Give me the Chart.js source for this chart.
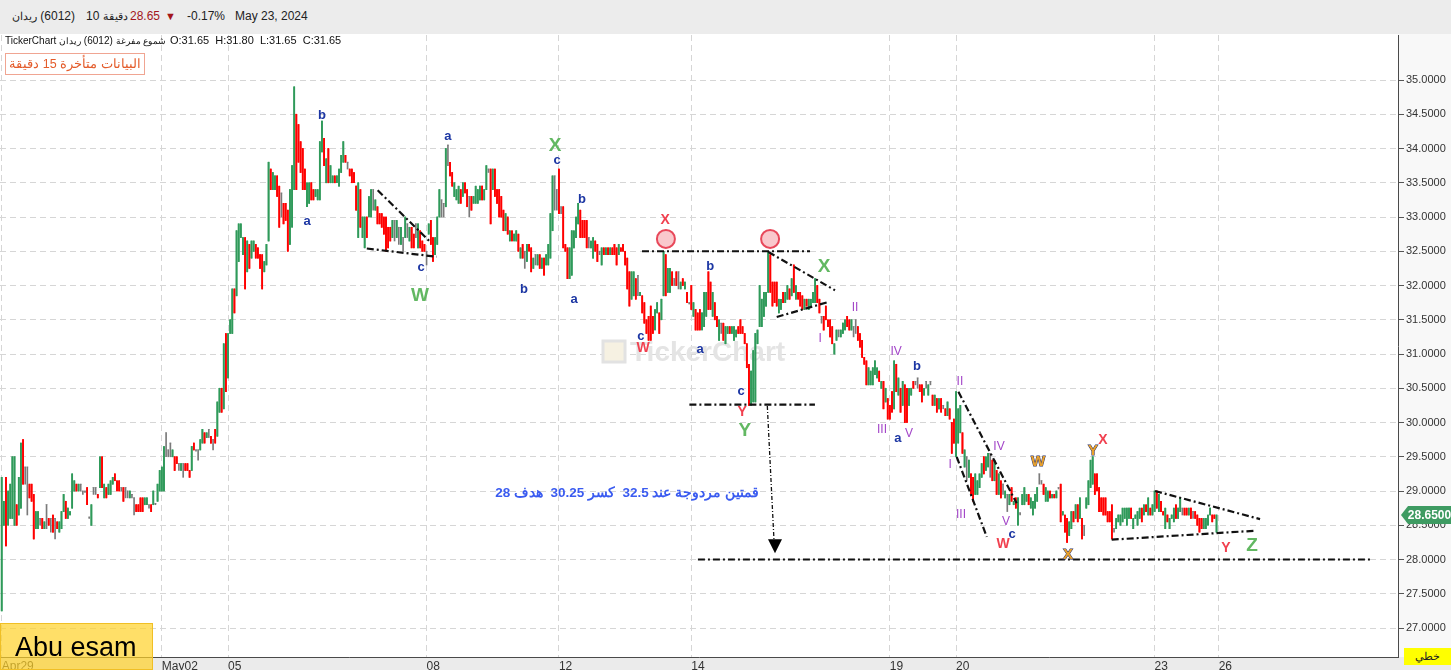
<!DOCTYPE html>
<html lang="en">
<head>
<meta charset="utf-8">
<title>ريدان (6012) - 10 دقيقة</title>
<script src="https://cdn.jsdelivr.net/npm/chart.js@4.4.1/dist/chart.umd.min.js"></script>
<style>
  html, body { margin: 0; padding: 0; }
  body { width: 1451px; height: 670px; position: relative; overflow: hidden; background: #fff;
         font-family: Arial, "Liberation Sans", sans-serif; color: #222; }
  .abs { position: absolute; white-space: pre; line-height: 1; }
  .ar { font-size: 0.9em; }
  #topbar { left: 0; top: 0; width: 1451px; height: 34px; background: #ececec; }
  #wrap { position: absolute; left: 0; top: 34px; width: 1451px; height: 636px; }
  .hd { top: 10px; font-size: 12px; color: #222; }
  .info { top: 36px; font-size: 10px; color: #111; }
  #delay { left: 5px; top: 53px; width: 138px; height: 20px; border: 1px solid #f0a592; background: #fff;
           color: #e45c2b; font-size: 12.5px; line-height: 20px; text-align: center; direction: rtl; overflow: hidden; }
  #author { left: 0; top: 623px; width: 151px; height: 45px; background: rgba(255, 210, 40, 0.7);
            border: 1px solid #f0bf25; font-size: 27px; line-height: 46px; color: #000; text-indent: 14px; }
  #mode { left: 1404px; top: 648px; width: 47px; height: 17px; background: #ffff00; font-size: 11px;
          line-height: 17px; text-align: center; color: #222; }
</style>
</head>
<body>
<div id="topbar" class="abs"></div>
<span class="abs hd" style="left:12px"><bdi class="ar">ريدان</bdi> (6012)</span>
<span class="abs hd" style="left:86px">10 <bdi class="ar">دقيقة</bdi></span>
<span class="abs hd" style="left:130px;color:#a3151b">28.65</span>
<span class="abs hd" style="left:165px;color:#a3151b;font-size:11px;top:11px">▼</span>
<span class="abs hd" style="left:187px">-0.17%</span>
<span class="abs hd" style="left:235px">May 23, 2024</span>

<div id="wrap"><canvas id="chart"></canvas></div>

<span class="abs info" style="left:5px">TickerChart <bdi class="ar">ريدان</bdi> (6012) <bdi class="ar">شموع مفرغة</bdi></span>
<span class="abs info" style="left:170px;font-size:11px;top:35px">O:31.65  H:31.80  L:31.65  C:31.65</span>
<div id="delay" class="abs">البيانات متأخرة 15 دقيقة</div>
<div id="author" class="abs">Abu esam</div>
<div id="mode" class="abs">خطي</div>

<script>
// 10-minute candles, Apr 29 (partial) to May 23, 2024; one entry per candle
const dayLabels = ['Apr29', 'May02', '05', '08', '12', '14', '19', '20', '23', '26'];
const dayStarts = [0, 75, 106, 199, 261, 323, 416, 447, 540, 570];
const priceTicks = [27, 27.5, 28, 28.5, 29, 29.5, 30, 30.5, 31, 31.5, 32, 32.5, 33, 33.5, 34, 34.5, 35];

const opens = [
  // Apr29 - May01
  27.25,28.5,29.2,28.5,28.6,28.6,28.5,28.8,28.65,28.75, 29.75,29.35,29.35,29.1,29.1,28.95,28.45,28.45,28.6,28.6,
  28.45,28.8,28.6,28.6,28.65,28.6,28.55,28.4,28.45,28.7, 28.85,28.6,28.65,28.75,29,29.1,29,29.1,29,29,
  29.05,28.62,28.5,29.05,29.05,28.95,29.05,29.5,28.9,29.05, 28.95,28.95,29.1,29.25,29.15,29.15,29.05,29.05,29.05,29,
  28.9,28.95,28.9,28.8,28.8,28.9,28.9,28.8,28.8,28.8, 28.8,28.8,28.82,28.85,29,
  // May02
  29,29,29.85,29.6,29.7,29.5,29.5,29.5,29.4,29.3, 29.4,29.4,29.4,29.3,29.3,29.7,29.6,29.6,29.6,29.7,
  29.85,29.78,29.9,29.8,29.75,29.9,29.8,30.15,30.5,30.2, 31.3,
  // May05
  30.65,31.3,31.3,31.95,31.85,32.35,32.7,32.45,32.7,32.2, 32.6,32.4,32.5,32.6,32.55,32.45,32.45,32.2,32.3,32.65,
  33.7,33.4,33.4,33.6,33.45,33.35,33.2,33.2,33.1,32.6, 32.85,
  // May06
  33.4,34.5,34.35,34.1,34,33.7,33.15,33.2,33.5,33.4, 33.3,33.25,33.25,33.95,34.15,33.5,34,33.5,33.5,33.6,
  33.5,33.45,33.65,33.8,33.9,33.8,33.7,33.7,33.65,33.45, 32.7,33.4,
  // May07
  32.7,32.55,33,33,33,33.4,33.1,33.15,33.05,33.05, 33,33,32.85,32.85,32.7,32.95,32.7,32.85,32.6,32.7,
  32.7,32.9,32.65,32.85,32.75,32.9,32.55,32.8,32.65,32.6,
  // May08
  32.5,32.75,32.95,32.7,32.45,32.6,33,33.25,33.2,33.15, 34.05,33.8,33.65,33.3,33.25,33.2,33.4,33.3,33.5,33.4,
  33.3,33.3,33.2,33.2,33.2,33.25,33.45,33.25,33.4,33.7, 33.7,
  // May09
  33.4,33.7,33.4,33.4,33.3,33.1,32.8,33,32.65,32.8, 32.65,32.65,32.75,32.4,32.6,32.5,32.35,32.6,32.55,32.25,
  32.45,32.3,32.45,32.25,32.4,32.3,32.3,32.4,32.8,33.6, 33.4,
  // May12
  33.7,33.15,33.15,32.6,32.55,32.1,32.15,32.55,32.7,32.9, 33.1,32.95,32.95,32.95,32.7,32.55,32.4,32.65,32.6,32.5,
  32.3,32.55,32.45,32.55,32.45,32.55,32.6,32.55,32.45,32.55, 32.6,
  // May13
  32.5,32.4,32.2,31.8,31.85,32.1,32.15,31.85,31.85,31.75, 31.5,31.55,31.7,31.55,31.35,31.6,31.6,31.5,31.85,32.45,
  31.9,31.9,32.2,32.1,32.2,32.2,31.95,32.1,31.95,31.9, 31.75,
  // May14
  32,31.55,31.65,31.6,31.65,31.35,31.4,31.55,32.2,32.05, 31.55,31.75,31.55,31.2,31.45,31.45,31.15,31.3,31.4,31.3,
  31.2,31.25,31.4,31.5,31.4,31.3,31.15,30.85,30.25,30.3, 30.3,
  // May15
  31.15,31.4,31.4,31.55,31.7,31.9,32.45,32.05,32.05,32.05, 31.6,31.65,31.9,31.75,31.8,31.95,31.85,32.3,31.8,31.9,
  31.9,31.85,31.65,31.8,31.65,31.7,31.75,31.75,32,31.8, 31.55,
  // May16
  31.55,31.7,31.5,31.5,31.4,31,31.2,31.35,31.25,31.3, 31.35,31.55,31.5,31.35,31.4,31.5,31.4,31.3,31.2,30.95,
  30.9,30.55,30.55,30.55,30.7,30.65,30.75,30.5,30.6,30.3, 30.35,
  // May19
  30.25,30.45,30.2,30.85,30.4,30.5,30.25,30.55,30.5,30.25, 30.4,30.6,30.6,30.65,30.55,30.55,30.4,30.6,30.4,30.6,
  30.4,30.25,30.35,30.2,30.35,30.25,30.2,30.1,30.2,30, 30.05,
  // May20
  29.5,29.7,29.85,29.85,29.35,29.5,29.2,29.25,29.2,28.95, 28.95,29.05,29.2,29.5,29.3,29.35,29.55,29.45,29.15,29.3,
  28.95,29.15,29.1,28.9,28.95,28.8,29.05,28.8,28.9,28.5, 28.68,
  // May21
  28.8,28.8,28.85,28.95,28.75,28.65,28.75,28.85,29.25,29.15, 29.1,28.85,28.85,29,28.9,28.95,28.9,29.05,29.1,28.65,
  28.65,28.6,28.35,28.45,28.7,28.6,28.8,28.6,28.6,28.5, 28.75,
  // May22
  28.8,29.05,29.1,29.25,29.25,29.05,28.9,28.9,28.9,28.7, 28.7,28.8,28.45,28.45,28.55,28.5,28.55,28.6,28.5,28.6,
  28.75,28.45,28.6,28.5,28.6,28.75,28.65,28.8,28.65,28.75, 28.65,
  // May23
  28.7,29,28.7,28.85,28.7,28.45,28.65,28.45,28.6,28.55, 28.8,28.6,28.7,28.75,28.75,28.75,28.65,28.75,28.7,28.7,
  28.65,28.6,28.6,28.45,28.45,28.5,28.65,28.65,28.65,28.4
];

const highs = [
  // Apr29 - May01
  29.2,28.85,29.2,29,29.1,29.5,29.5,28.8,29.2,29.7, 29.75,29.35,29.35,29.1,29.1,28.95,28.7,28.7,28.6,28.6,
  28.55,28.8,28.6,28.6,28.65,28.6,28.55,28.55,28.7,28.95, 28.85,28.75,28.7,29.25,29.15,29.1,29.1,29.1,29,29,
  29.05,28.62,28.8,29.05,29.05,28.95,29.5,29.5,29.1,29.05, 29.1,29.15,29.2,29.25,29.15,29.15,29.05,29.05,29.05,29,
  29,28.95,28.9,28.8,28.8,28.9,28.9,28.9,28.9,28.8, 28.8,29,28.82,29.1,29.3,
  // May02
  29.35,29.65,29.85,29.6,29.7,29.6,29.5,29.5,29.4,29.4, 29.4,29.4,29.4,29.3,29.65,29.7,29.6,29.6,29.75,29.9,
  29.85,29.85,29.9,29.8,29.75,29.9,30.3,30.5,30.5,31.15, 31.3,
  // May05
  31.3,31.5,31.95,31.95,32.8,32.9,32.9,32.7,32.7,32.65, 32.6,32.65,32.65,32.6,32.55,32.45,32.45,32.35,32.6,33.8,
  33.7,33.65,33.6,33.6,33.45,33.35,33.2,33.2,33.1,33.4, 33.75,
  // May06
  34.9,34.5,34.35,34.1,34,33.7,33.5,33.5,33.5,33.4, 33.4,33.4,34.1,34.4,34.15,33.85,34,33.75,33.6,33.6,
  33.6,33.7,33.9,34.1,33.9,33.8,33.7,33.7,33.65,33.45, 33.5,33.4,
  // May07
  33,33,33,33.3,33.4,33.4,33.25,33.15,33.05,33.05, 33,33,32.85,32.85,32.95,32.95,32.95,32.85,32.85,32.7,
  33,32.9,32.85,32.85,32.75,32.9,32.9,32.8,32.65,32.6,
  // May08
  32.5,32.9,32.95,32.7,32.7,33,33.4,33.25,33.2,34, 34.05,33.8,33.65,33.5,33.4,33.45,33.4,33.5,33.5,33.4,
  33.3,33.3,33.3,33.45,33.4,33.45,33.45,33.4,33.75,33.7, 33.7,
  // May09
  33.7,33.7,33.4,33.4,33.3,33.1,33.05,33,32.8,32.8, 32.75,32.8,32.75,32.55,32.6,32.5,32.6,32.6,32.55,32.4,
  32.45,32.45,32.45,32.4,32.4,32.45,32.6,33.05,33.6,33.6, 33.4,
  // May12
  33.7,33.15,33.15,32.6,32.55,32.55,32.8,32.8,33,33.2, 33.1,32.95,32.95,32.95,32.7,32.65,32.7,32.65,32.6,32.5,
  32.55,32.55,32.55,32.55,32.55,32.55,32.6,32.55,32.6,32.55, 32.6,
  // May13
  32.5,32.4,32.2,32.2,32.2,32.1,32.15,31.9,31.85,31.75, 31.5,31.55,31.7,31.55,31.65,31.75,31.6,31.8,32.5,32.45,
  32.25,32.25,32.2,32.1,32.2,32.2,32.05,32.1,32.05,31.9, 31.75,
  // May14
  32,31.75,31.65,31.6,31.65,31.6,31.9,31.9,32.2,32.05, 31.9,31.75,31.55,31.5,31.45,31.45,31.4,31.4,31.4,31.4,
  31.4,31.35,31.4,31.5,31.4,31.3,31.15,30.85,30.75,31.05, 31.3,
  // May15
  31.35,32,31.8,31.9,31.9,32.5,32.45,32.05,32.05,32.05, 31.8,31.8,31.9,31.9,32,31.95,32.1,32.3,32,31.9,
  31.9,31.85,31.8,31.8,31.8,31.8,31.9,32.1,32,31.8, 31.55,
  // May16
  31.55,31.7,31.5,31.5,31.4,31.15,31.35,31.35,31.35,31.45, 31.5,31.55,31.5,31.5,31.4,31.5,31.4,31.3,31.2,30.95,
  30.9,30.8,30.75,30.8,30.9,30.8,30.75,30.6,30.6,30.5, 30.35,
  // May19
  30.25,30.45,30.9,30.85,30.65,30.5,30.6,30.55,30.5,30.5, 30.5,30.6,30.6,30.65,30.55,30.55,30.5,30.6,30.55,30.6,
  30.4,30.4,30.35,30.35,30.35,30.25,30.2,30.3,30.2,30, 30.05,
  // May20
  30.45,30.2,30.25,29.85,29.6,29.5,29.45,29.25,29.2,29.25, 29.15,29.25,29.4,29.5,29.5,29.55,29.55,29.45,29.45,29.3,
  29.25,29.15,29.1,29,28.95,28.95,29.05,28.85,28.9,28.9, 28.68,
  // May21
  28.95,29.05,28.95,28.95,28.9,28.85,28.95,29.05,29.25,29.15, 29.1,29.05,29,29,28.95,28.95,29,29.05,29.1,28.7,
  28.65,28.6,28.55,28.7,28.7,28.8,28.8,28.9,28.6,28.5, 28.9,
  // May22
  29.15,29.45,29.5,29.25,29.25,29.05,28.9,28.9,28.9,28.7, 28.7,28.8,28.45,28.6,28.65,28.65,28.75,28.75,28.75,28.75,
  28.75,28.6,28.65,28.7,28.75,28.75,28.8,28.8,28.9,28.75, 28.8,
  // May23
  29,29,28.95,28.85,28.7,28.75,28.65,28.6,28.65,28.75, 28.8,28.75,28.9,28.75,28.75,28.75,28.75,28.75,28.7,28.7,
  28.65,28.6,28.6,28.6,28.6,28.65,28.75,28.65,28.65,28.65
];

const lows = [
  // Apr29 - May01
  27.25,28.5,28.2,28.5,28.6,28.6,28.5,28.5,28.65,28.75, 29.1,29.1,28.65,28.9,28.85,28.3,28.45,28.45,28.5,28.45,
  28.45,28.45,28.5,28.4,28.4,28.3,28.45,28.4,28.45,28.7, 28.6,28.6,28.65,28.75,29,29,29,29,28.95,28.98,
  28.8,28.6,28.5,28.95,28.95,28.9,29.05,29.05,28.9,28.9, 28.95,28.95,29.1,29.15,29,29,29,28.85,28.9,28.9,
  28.9,28.9,28.65,28.7,28.7,28.7,28.7,28.8,28.8,28.75, 28.7,28.8,28.8,28.85,29,
  // May02
  29,29,29.5,29.5,29.5,29.5,29.3,29.4,29.3,29.3, 29.2,29.3,29.3,29.2,29.3,29.6,29.58,29.45,29.6,29.7,
  29.7,29.78,29.78,29.7,29.6,29.7,29.8,30.15,30.15,30.2, 30.45,
  // May05
  30.65,31.3,31.3,31.6,31.85,32.35,32.7,32.45,31.95,32.2, 32.25,32.4,32.5,32.4,32.4,32.25,31.95,32.2,32.3,32.65,
  33.4,33.4,33.4,33.3,32.85,33,32.9,32.95,32.5,32.6, 32.85,
  // May06
  33.4,33.4,33.8,33.65,33.4,33.4,33.15,33.2,33.25,33.25, 33.3,33.25,33.25,33.95,33.75,33.5,33.5,33.5,33.5,33.5,
  33.5,33.45,33.65,33.8,33.8,33.7,33.6,33.5,33.5,33.1, 32.7,32.85,
  // May07
  32.7,32.55,32.7,33,33,33.1,33.1,32.9,32.9,32.85, 32.75,32.5,32.55,32.65,32.7,32.65,32.7,32.6,32.6,32.5,
  32.7,32.7,32.65,32.55,32.55,32.7,32.55,32.55,32.5,32.5,
  // May08
  32.3,32.75,32.6,32.35,32.45,32.6,33,33,33,33.15, 33.75,33.6,33.45,33.3,33.25,33.2,33.2,33.3,33.35,33.15,
  33,33.1,33.2,33.2,33.2,33.25,33.25,33.25,33.4,33.65, 32.9,
  // May09
  33.4,33.3,33.2,33,33,32.8,32.8,32.75,32.65,32.65, 32.65,32.65,32.5,32.4,32.4,32.25,32.35,32.5,32.2,32.25,
  32.3,32.3,32.25,32.25,32.15,32.3,32.3,32.4,32.8,33.1, 33.1,
  // May12
  33.05,33.05,32.55,32.5,32.1,32.1,32.15,32.55,32.7,32.9, 32.7,32.7,32.7,32.55,32.55,32.55,32.4,32.5,32.35,32.45,
  32.3,32.45,32.45,32.45,32.45,32.45,32.45,32.3,32.45,32.5, 32.5,
  // May13
  32.3,31.95,31.7,31.8,31.85,31.8,31.85,31.85,31.6,31.45, 31.3,31.2,31.2,31.3,31.35,31.6,31.3,31.5,31.85,31.85,
  31.9,31.9,32,32,32,31.95,31.95,32,31.95,31.75, 31.73,
  // May14
  31.65,31.55,31.35,31.35,31.35,31.35,31.4,31.55,31.65,31.65, 31.55,31.5,31.4,31.2,31.3,31.2,31.15,31.3,31.3,31.3,
  31.2,31.25,31.3,31.3,31.3,31.15,30.8,30.25,30.25,30.3, 30.3,
  // May15
  31.15,31.4,31.4,31.55,31.7,31.9,31.9,31.7,31.75,31.7, 31.6,31.65,31.75,31.75,31.8,31.8,31.85,31.9,31.8,31.8,
  31.7,31.65,31.65,31.7,31.65,31.7,31.75,31.75,31.75,31.6, 31.45,
  // May16
  31.35,31.5,31.4,31.25,31.15,31,31.2,31.25,31.25,31.3, 31.35,31.4,31.35,31.35,31.25,31.3,31.2,31.1,30.95,30.85,
  30.55,30.55,30.55,30.55,30.7,30.65,30.6,30.5,30.2,30.3, 30.05,
  // May19
  30.05,30.15,30.2,30.45,30.4,30.15,30.25,30,30,30.25, 30.4,30.5,30.55,30.5,30.45,30.3,30.4,30.5,30.4,30.55,
  30.25,30.25,30.15,30.2,30.15,30.2,30.1,30.1,30.05,29.55, 29.7,
  // May20
  29.5,29.7,29.85,29.55,29.35,29.15,29.2,28.95,28.85,28.95, 28.95,29.05,29.2,29.25,29.3,29.35,29.2,29.15,29.15,28.95,
  28.95,28.9,28.95,28.9,28.7,28.8,28.85,28.8,28.75,28.5, 28.65,
  // May21
  28.8,28.8,28.85,28.8,28.75,28.65,28.75,28.85,29.1,29.1, 28.95,28.85,28.85,28.9,28.9,28.9,28.9,29.03,28.55,28.65,
  28.4,28.25,28.35,28.45,28.55,28.6,28.55,28.6,28.3,28.35, 28.75,
  // May22
  28.8,29.05,29.1,28.95,29,28.7,28.7,28.65,28.65,28.55, 28.55,28.3,28.4,28.45,28.55,28.5,28.55,28.6,28.5,28.6,
  28.6,28.45,28.6,28.5,28.6,28.55,28.65,28.7,28.65,28.65, 28.65,
  // May23
  28.7,28.75,28.7,28.7,28.65,28.45,28.55,28.45,28.6,28.55, 28.6,28.6,28.7,28.65,28.65,28.65,28.65,28.6,28.6,28.6,
  28.5,28.4,28.45,28.45,28.45,28.5,28.65,28.55,28.6,28.4
];

const closes = [
  // Apr29 - May01
  29.2,28.85,28.2,29,29.1,29.5,29.5,28.5,29.2,29.7, 29.1,29.35,29.35,28.9,28.85,28.3,28.7,28.7,28.6,28.45,
  28.55,28.8,28.5,28.6,28.4,28.6,28.45,28.55,28.7,28.95, 28.6,28.75,28.7,29.25,29.15,29,29.1,29.1,29,29,
  28.8,28.62,28.8,29.05,29.05,28.9,29.5,29.05,29.1,28.9, 29.1,29.15,29.2,29.15,29,29,29.05,28.85,29.05,29,
  29,28.95,28.9,28.7,28.7,28.7,28.7,28.9,28.9,28.8, 28.7,29,28.82,29.1,29.3,
  // May02
  29.35,29.65,29.85,29.6,29.7,29.6,29.3,29.4,29.4,29.4, 29.4,29.3,29.3,29.2,29.65,29.6,29.6,29.6,29.75,29.9,
  29.7,29.85,29.9,29.7,29.75,29.7,30.3,30.5,30.15,31.15, 30.45,
  // May05
  31.3,31.5,31.95,31.6,32.8,32.9,32.9,32.7,31.95,32.65, 32.25,32.65,32.65,32.4,32.4,32.25,31.95,32.35,32.6,33.8,
  33.4,33.65,33.6,33.3,32.85,33.35,32.9,32.95,32.5,33.4, 33.75,
  // May06
  34.9,33.4,33.8,33.65,33.4,33.4,33.5,33.5,33.25,33.25, 33.4,33.4,34.1,34.4,33.75,33.85,33.5,33.75,33.6,33.5,
  33.6,33.7,33.9,34.1,33.8,33.8,33.6,33.5,33.5,33.1, 33.5,32.85,
  // May07
  33,33,32.7,33.3,33.4,33.4,33.25,32.9,32.9,32.85, 32.75,32.5,32.55,32.65,32.95,32.95,32.95,32.85,32.85,32.7,
  33,32.9,32.85,32.55,32.55,32.9,32.9,32.55,32.5,32.5,
  // May08
  32.5,32.9,32.6,32.35,32.7,33,33.4,33.25,33.2,34, 34.05,33.6,33.45,33.5,33.4,33.45,33.2,33.5,33.35,33.15,
  33.3,33.1,33.3,33.45,33.4,33.45,33.25,33.4,33.75,33.7, 32.9,
  // May09
  33.7,33.3,33.2,33,33,32.8,33.05,32.75,32.8,32.65, 32.75,32.8,32.5,32.55,32.4,32.5,32.6,32.5,32.2,32.4,
  32.45,32.45,32.25,32.4,32.15,32.45,32.6,33.05,33.6,33.6, 33.4,
  // May12
  33.05,33.15,32.55,32.5,32.1,32.55,32.8,32.8,33,33.2, 32.7,32.7,32.7,32.55,32.7,32.65,32.7,32.5,32.35,32.5,
  32.55,32.45,32.55,32.45,32.55,32.45,32.45,32.3,32.6,32.5, 32.5,
  // May13
  32.3,31.95,31.7,32.2,32.2,31.8,32.15,31.9,31.6,31.45, 31.3,31.2,31.2,31.3,31.65,31.75,31.3,31.8,32.5,31.85,
  32.25,32.25,32,32.1,32,32.2,32.05,32,32.05,31.75, 31.75,
  // May14
  31.65,31.75,31.35,31.35,31.35,31.6,31.9,31.9,31.65,31.65, 31.9,31.5,31.4,31.5,31.45,31.2,31.4,31.4,31.3,31.4,
  31.4,31.35,31.3,31.3,31.3,31.15,30.8,30.25,30.75,31.05, 31.3,
  // May15
  31.35,32,31.8,31.9,31.9,32.5,31.9,31.7,31.75,31.7, 31.8,31.8,31.75,31.9,32,31.8,32.1,31.9,32,31.8,
  31.7,31.65,31.8,31.7,31.8,31.8,31.9,32.1,31.75,31.6, 31.55,
  // May16
  31.35,31.5,31.4,31.25,31.15,31.15,31.35,31.35,31.35,31.45, 31.5,31.4,31.35,31.5,31.4,31.5,31.2,31.1,30.95,30.85,
  30.55,30.8,30.75,30.8,30.9,30.8,30.6,30.6,30.2,30.5, 30.05,
  // May19
  30.05,30.15,30.9,30.45,30.65,30.15,30.6,30,30,30.5, 30.5,30.5,30.6,30.65,30.45,30.3,30.5,30.6,30.55,30.6,
  30.25,30.4,30.15,30.35,30.15,30.25,30.1,30.3,30.05,29.55, 29.7,
  // May20
  30.45,30.2,30.25,29.55,29.6,29.5,29.45,28.95,28.85,29.25, 29.15,29.25,29.4,29.25,29.5,29.55,29.55,29.15,29.45,28.95,
  29.25,28.9,29.1,29,28.95,28.95,28.85,28.85,28.75,28.9, 28.68,
  // May21
  28.95,29.05,28.95,28.8,28.9,28.85,28.95,29.05,29.25,29.15, 28.95,29.05,29,28.9,28.95,28.9,29,29.05,28.55,28.7,
  28.4,28.25,28.55,28.7,28.55,28.8,28.55,28.9,28.3,28.5, 28.9,
  // May22
  29.15,29.45,29.5,28.95,29,28.7,28.7,28.65,28.65,28.55, 28.55,28.3,28.45,28.6,28.65,28.65,28.75,28.75,28.75,28.75,
  28.6,28.6,28.65,28.7,28.75,28.55,28.8,28.7,28.9,28.65, 28.8,
  // May23
  29,28.75,28.95,28.7,28.65,28.75,28.55,28.6,28.65,28.75, 28.6,28.75,28.9,28.75,28.65,28.65,28.75,28.6,28.7,28.6,
  28.5,28.4,28.45,28.6,28.6,28.65,28.75,28.55,28.6,28.65
];

// Elliott wave annotations: [candle index, price, text, style]
const waveLabels = [
  [150.0, 34.49, 'b', 'minor'], [143.0, 32.94, 'a', 'minor'], [196.4, 32.26, 'c', 'minor'],
  [209.0, 34.18, 'a', 'minor'], [260.1, 33.82, 'c', 'minor'], [271.8, 33.26, 'b', 'minor'],
  [244.6, 31.95, 'b', 'minor'], [268.1, 31.80, 'a', 'minor'], [299.4, 31.25, 'c', 'minor'],
  [331.8, 32.28, 'b', 'minor'], [327.1, 31.06, 'a', 'minor'], [346.3, 30.45, 'c', 'minor'],
  [428.7, 30.82, 'b', 'minor'], [419.8, 29.77, 'a', 'minor'], [473.2, 28.36, 'c', 'minor'],
  [195.9, 31.85, 'W', 'major'], [259.2, 34.04, 'X', 'major'], [385.2, 32.27, 'X', 'major'],
  [348.1, 29.88, 'Y', 'major'], [585.6, 28.20, 'Z', 'major'],
  [310.7, 32.96, 'X', 'inter'], [300.4, 31.09, 'W', 'inter'], [346.8, 30.15, 'Y', 'inter'],
  [469.0, 28.23, 'W', 'inter'], [515.8, 29.74, 'X', 'inter'], [573.4, 28.17, 'Y', 'inter'],
  [399.7, 31.67, 'II', 'impulse'], [383.3, 31.23, 'I', 'impulse'], [418.9, 31.03, 'IV', 'impulse'],
  [412.3, 29.89, 'III', 'impulse'], [425.0, 29.83, 'V', 'impulse'], [448.8, 30.59, 'II', 'impulse'],
  [444.2, 29.39, 'I', 'impulse'], [467.1, 29.64, 'IV', 'impulse'], [449.3, 28.66, 'III', 'impulse'],
  [470.4, 28.55, 'V', 'impulse'],
  [485.4, 29.42, 'W', 'sub'], [511.1, 29.58, 'Y', 'sub'], [499.4, 28.07, 'X', 'sub']
];
// dash-dot trend lines: [i1, p1, i2, p2]
const trendLines = [
  [176.1, 33.39, 200.6, 32.64], [171.0, 32.54, 203.7, 32.42],
  [299.9, 32.50, 378.6, 32.50], [359.1, 32.49, 390.3, 31.93], [363.0, 31.54, 387.2, 31.76],
  [322.1, 30.26, 380.9, 30.26], [326.1, 28.00, 640.9, 28.00],
  [448.1, 30.45, 475.4, 28.82], [447.3, 29.50, 461.4, 28.33],
  [540.2, 29.00, 589.4, 28.59], [519.9, 28.29, 587.0, 28.42]
];
const doubleTops = [[311.1, 32.68], [359.9, 32.68]];
const targetArrow = [358.6, 30.24, 362.2, 28.09];
const noteText = 'قمتين مردوجة عند 32.5  كسر 30.25  هدف 28';
const notePos = [292.9, 28.96];

const FONT = 'Arial, "Liberation Sans", sans-serif';
const UP = '#2f9a5a', DOWN = '#ff0000', FLAT = '#7a7a7a';
const candleColors = opens.map((o, i) => closes[i] > o ? UP : (closes[i] < o ? DOWN : FLAT));

const labelStyles = {
  minor:   { font: 'bold 13px ' + FONT, color: '#1c36a3' },
  major:   { font: 'bold 19px ' + FONT, color: '#62b862' },
  inter:   { font: 'bold 14px ' + FONT, color: '#f1404f' },
  impulse: { font: '12px ' + FONT, color: '#a346c8' },
  sub:     { font: 'bold 15px ' + FONT, color: '#e9a12a', stroke: '#28306a' }
};

const backdrop = {
  id: 'backdrop',
  beforeDraw(c) {
    const { ctx, chartArea: a, width, height } = c;
    ctx.save();
    ctx.fillStyle = '#ffffff';
    ctx.fillRect(0, 0, width, height);
    ctx.fillStyle = '#f8f8f8';
    ctx.fillRect(a.right, 0, width - a.right, a.bottom);
    ctx.fillStyle = '#ebebeb';
    ctx.fillRect(0, a.bottom, width, height - a.bottom);
    ctx.restore();
  }
};

const watermark = {
  id: 'watermark',
  beforeDatasetsDraw(c) {
    const { ctx } = c;
    ctx.save();
    ctx.fillStyle = '#f6f1e2';
    ctx.strokeStyle = '#e2e2e2';
    ctx.lineWidth = 3;
    ctx.fillRect(603, 307, 22, 21);
    ctx.strokeRect(603, 307, 22, 21);
    ctx.fillStyle = '#e4e4e4';
    ctx.font = 'bold 28px ' + FONT;
    ctx.textBaseline = 'alphabetic';
    ctx.fillText('TickerChart', 630, 327);
    ctx.restore();
  }
};

const marks = {
  id: 'marks',
  afterDatasetsDraw(c) {
    const { ctx } = c;
    const X = v => c.scales.x.getPixelForValue(v);
    const Y = v => c.scales.y.getPixelForValue(v);
    ctx.save();

    ctx.strokeStyle = '#111';
    ctx.lineWidth = 2.2;
    ctx.setLineDash([7, 3, 2, 3]);
    trendLines.forEach(([i1, p1, i2, p2]) => {
      ctx.beginPath();
      ctx.moveTo(X(i1), Y(p1));
      ctx.lineTo(X(i2), Y(p2));
      ctx.stroke();
    });

    // target projection arrow
    const [ai1, ap1, ai2, ap2] = targetArrow;
    const tipX = X(ai2), tipY = Y(ap2);
    ctx.lineWidth = 1.3;
    ctx.setLineDash([4, 2, 1, 2]);
    ctx.beginPath();
    ctx.moveTo(X(ai1), Y(ap1));
    ctx.lineTo(tipX - 1, tipY - 13);
    ctx.stroke();
    ctx.setLineDash([]);
    ctx.fillStyle = '#000';
    ctx.beginPath();
    ctx.moveTo(tipX, tipY);
    ctx.lineTo(tipX - 7, tipY - 14);
    ctx.lineTo(tipX + 7, tipY - 14);
    ctx.closePath();
    ctx.fill();

    doubleTops.forEach(([i, p]) => {
      ctx.beginPath();
      ctx.arc(X(i), Y(p), 9, 0, Math.PI * 2);
      ctx.fillStyle = '#f9c8cc';
      ctx.fill();
      ctx.lineWidth = 2;
      ctx.strokeStyle = '#e8485a';
      ctx.stroke();
    });

    ctx.textAlign = 'center';
    ctx.textBaseline = 'middle';
    waveLabels.forEach(([i, p, t, s]) => {
      const st = labelStyles[s];
      ctx.font = st.font;
      if (st.stroke) {
        ctx.lineWidth = 1;
        ctx.strokeStyle = st.stroke;
        ctx.strokeText(t, X(i), Y(p));
      }
      ctx.fillStyle = st.color;
      ctx.fillText(t, X(i), Y(p));
    });

    ctx.direction = 'rtl';
    ctx.font = 'bold 13.5px ' + FONT;
    ctx.fillStyle = '#3a5bf0';
    ctx.fillText(noteText, X(notePos[0]), Y(notePos[1]));
    ctx.restore();
  }
};

const lastPriceTag = {
  id: 'lastPriceTag',
  afterDraw(c) {
    const { ctx, chartArea: a, width } = c;
    const last = closes[closes.length - 1];
    const y = c.scales.y.getPixelForValue(last);
    ctx.save();
    ctx.fillStyle = '#3e9b62';
    ctx.beginPath();
    ctx.moveTo(a.right + 3, y);
    ctx.lineTo(a.right + 10, y - 9);
    ctx.lineTo(width, y - 9);
    ctx.lineTo(width, y + 9);
    ctx.lineTo(a.right + 10, y + 9);
    ctx.closePath();
    ctx.fill();
    ctx.fillStyle = '#fff';
    ctx.font = 'bold 12px ' + FONT;
    ctx.textAlign = 'center';
    ctx.textBaseline = 'middle';
    ctx.fillText(last.toFixed(4), (a.right + 10 + width) / 2, y + 1);
    ctx.restore();
  }
};

new Chart(document.getElementById('chart'), {
  type: 'bar',
  data: {
    datasets: [
      {
        label: 'wick',
        data: highs.map((h, i) => ({ x: i, y: [lows[i], h] })),
        backgroundColor: candleColors,
        barThickness: 1,
        grouped: false,
        borderWidth: 0
      },
      {
        label: 'body',
        data: opens.map((o, i) => ({ x: i, y: [o, closes[i]] })),
        backgroundColor: candleColors,
        barThickness: 1.1,
        grouped: false,
        borderWidth: 0
      }
    ]
  },
  options: {
    responsive: true,
    maintainAspectRatio: false,
    animation: false,
    layout: { padding: { top: 1, left: 0, right: 0, bottom: 0 } },
    plugins: { legend: { display: false }, tooltip: { enabled: false } },
    scales: {
      x: {
        type: 'linear',
        min: -0.8,
        max: 654,
        offset: false,
        grid: { color: '#d6d6d6', drawTicks: false, offset: false },
        border: { display: true, color: '#4a4a4a', dash: [6, 4] },
        ticks: {
          autoSkip: false, maxRotation: 0, align: 'start', padding: 2,
          color: '#333', font: { size: 12, family: FONT },
          callback: v => dayLabels[dayStarts.indexOf(v)] ?? ''
        },
        afterBuildTicks: s => { s.ticks = dayStarts.map(v => ({ value: v })); },
        afterFit: s => { s.height = 13; s.paddingLeft = 0; s.paddingRight = 0; }
      },
      y: {
        type: 'linear',
        position: 'right',
        min: 26.577,
        max: 35.657,
        grid: { color: '#d6d6d6', tickColor: '#555', tickLength: 6 },
        border: { display: true, color: '#4a4a4a', dash: [6, 4] },
        ticks: { padding: 2, color: '#333', font: { size: 11, family: FONT }, callback: v => v.toFixed(4) },
        afterBuildTicks: s => { s.ticks = priceTicks.map(v => ({ value: v })); },
        afterFit: s => { s.width = 53; s.paddingTop = 0; s.paddingBottom = 0; }
      }
    }
  },
  plugins: [backdrop, watermark, marks, lastPriceTag]
});
</script>
</body>
</html>
